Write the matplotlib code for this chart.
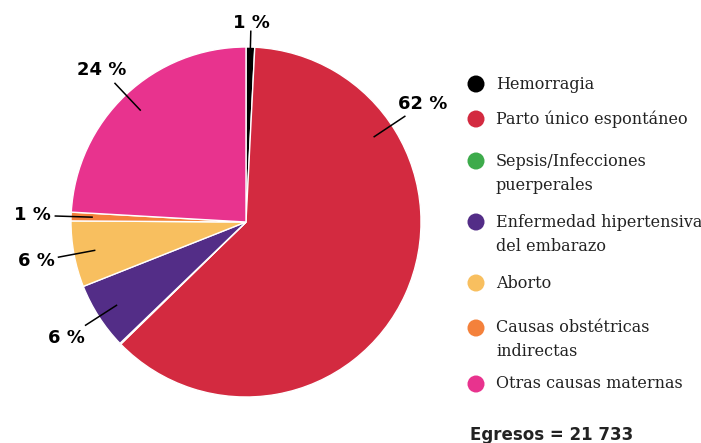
import numpy as np
import matplotlib
matplotlib.use("Agg")
import matplotlib.pyplot as plt

# data (share of discharges, %)
causes = ["Hemorragia", "Parto único espontáneo", "Sepsis/Infecciones\npuerperales",
          "Enfermedad hipertensiva\ndel embarazo", "Aborto",
          "Causas obstétricas\nindirectas", "Otras causas maternas"]
shares = [0.8, 61.9, 0.1, 6.2, 6.1, 0.8, 24.1]
pct_labels = ["1 %", "62 %", "", "6 %", "6 %", "1 %", "24 %"]
colors = ["#000000", "#d32a40", "#3dab4b", "#532d87", "#f8bf5f", "#f4813b", "#e8338e"]
total_text = "Egresos = 21 733"

W, H = 701, 443
fig = plt.figure(figsize=(W / 100, H / 100), dpi=100)
ax = fig.add_axes([0, 0, 1, 1])

cx, cy, R = 246, 443 - 222, 175
wedges, _ = ax.pie(shares, colors=colors, startangle=90, counterclock=False,
                   center=(cx, cy), radius=R,
                   wedgeprops=dict(edgecolor="white", linewidth=1.0))
ax.set_xlim(0, W)
ax.set_ylim(0, H)
ax.set_aspect("equal")
ax.axis("off")

# where along each wedge the leader sits (0 = start, 1 = end, clockwise)
label_frac = {1: 0.24}

# leader lines and percent labels
for i, (w, lab) in enumerate(zip(wedges, pct_labels)):
    if not lab:
        continue
    f = label_frac.get(i, 0.5)
    # clockwise wedges: theta2 is the start, theta1 the end
    ang = np.deg2rad(w.theta2 - f * (w.theta2 - w.theta1))
    dx, dy = np.cos(ang), np.sin(ang)
    ax.plot([cx + 0.88 * R * dx, cx + 1.09 * R * dx],
            [cy + 0.88 * R * dy, cy + 1.09 * R * dy], color="black", lw=1.1)
    rt = 1.22 - 0.08 * max(0, dy) ** 4
    ax.text(cx + rt * R * dx, cy + rt * R * dy, lab, ha="center", va="center",
            fontsize=13, fontweight="bold", family="DejaVu Sans")

# legend drawn by hand to keep the uneven spacing
leg_y = [84, 119, 161, 222, 283, 328, 384]
for y, name, c in zip(leg_y, causes, colors):
    ax.scatter(476, H - y, s=150, color=c, edgecolor="none")
    for k, line in enumerate(name.split("\n")):
        ax.text(496, H - y - 24 * k, line, ha="left", va="center",
                fontsize=11.5, family="DejaVu Serif", color="#222222")

ax.text(470, H - 435, total_text, ha="left", va="center", fontsize=12,
        fontweight="bold", family="DejaVu Sans", color="#222222")

fig.savefig("out.png", dpi=100)
